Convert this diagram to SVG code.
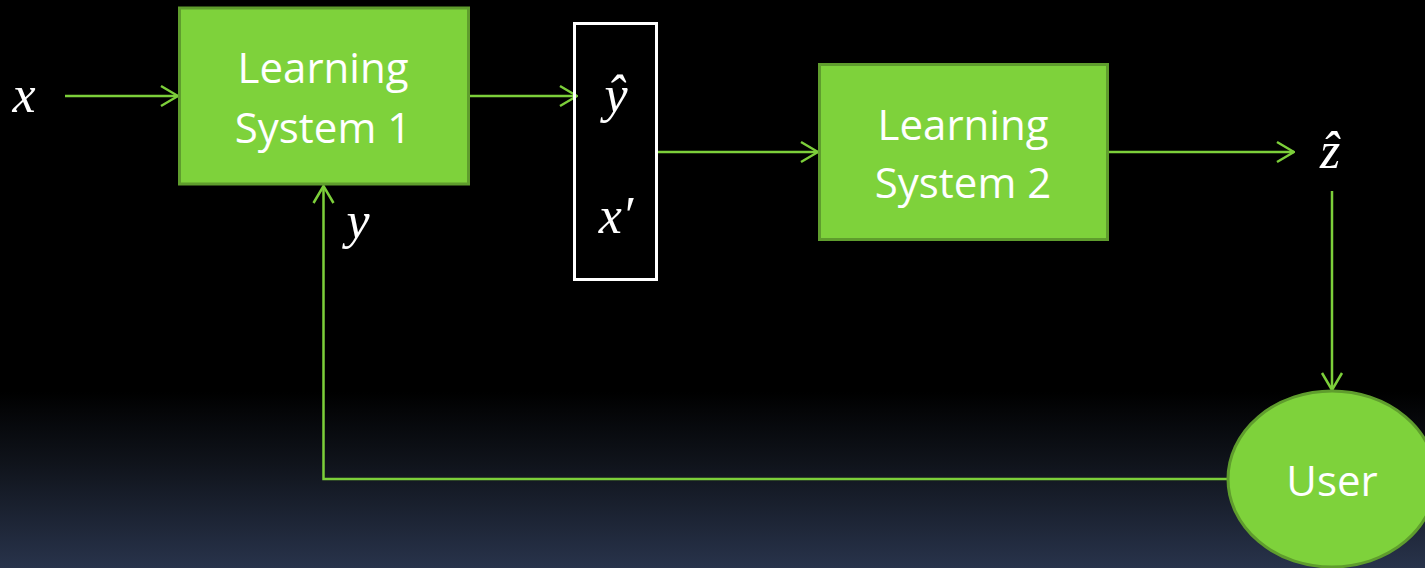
<svg xmlns="http://www.w3.org/2000/svg" width="1425" height="568" viewBox="0 0 1425 568">
  <defs>
    <linearGradient id="bg" x1="0" y1="0" x2="0" y2="1">
      <stop offset="0" stop-color="#000000"/>
      <stop offset="0.69" stop-color="#000000"/>
      <stop offset="0.82" stop-color="#10141c"/>
      <stop offset="1" stop-color="#28334b"/>
    </linearGradient>
    <marker id="arrow" viewBox="0 0 20 24" refX="19" refY="12" markerWidth="20" markerHeight="24" markerUnits="userSpaceOnUse" orient="auto">
      <path d="M2,2 L19,12 L2,22" fill="none" stroke="#7ccf3a" stroke-width="2.5"/>
    </marker>
    <style>
      .box { fill: #7ed23b; stroke: #5f9d2d; stroke-width: 3; }
      .label { font-family: "Open Sans", "Noto Sans", sans-serif; font-size: 42px; fill: #ffffff; text-anchor: middle; }
      .math { font-family: "Liberation Serif", "DejaVu Serif", serif; font-style: italic; font-size: 52px; fill: #ffffff; text-anchor: middle; }
      .wire { fill: none; stroke: #7ccf3a; stroke-width: 2.5; }
    </style>
  </defs>

  <rect x="0" y="0" width="1425" height="568" fill="url(#bg)"/>

  <!-- connectors -->
  <g id="connectors">
    <line class="wire" x1="65" y1="96" x2="178" y2="96" marker-end="url(#arrow)"/>
    <line class="wire" x1="469" y1="96" x2="577" y2="96" marker-end="url(#arrow)"/>
    <line class="wire" x1="657" y1="152" x2="818" y2="152" marker-end="url(#arrow)"/>
    <line class="wire" x1="1108" y1="152" x2="1294" y2="152" marker-end="url(#arrow)"/>
    <line class="wire" x1="1332" y1="191" x2="1332" y2="390" marker-end="url(#arrow)"/>
    <polyline class="wire" points="1228,479 323.5,479 323.5,186" marker-end="url(#arrow)"/>
  </g>

  <!-- input / output symbols -->
  <g id="sym-x"><text class="math" x="24" y="112">x</text></g>
  <g id="sym-y"><text class="math" x="358" y="238">y</text></g>
  <g id="sym-zhat"><text class="math" x="1330" y="168">ẑ</text></g>

  <!-- learning system 1 -->
  <g id="ls1">
    <rect class="box" x="179.5" y="8" width="289" height="176"/>
    <text class="label" x="323" y="83">Learning</text>
    <text class="label" x="323" y="143">System 1</text>
  </g>

  <!-- intermediate vector -->
  <g id="vector">
    <rect x="574.5" y="23.5" width="82" height="256" fill="none" stroke="#ffffff" stroke-width="3"/>
    <text class="math" x="616" y="112">ŷ</text>
    <text class="math" x="616" y="233">x′</text>
  </g>

  <!-- learning system 2 -->
  <g id="ls2">
    <rect class="box" x="819.5" y="64.5" width="288" height="175"/>
    <text class="label" x="963" y="140">Learning</text>
    <text class="label" x="963" y="198">System 2</text>
  </g>

  <!-- user -->
  <g id="user">
    <ellipse class="box" cx="1332" cy="479" rx="104" ry="88"/>
    <text class="label" x="1332" y="496">User</text>
  </g>
</svg>
